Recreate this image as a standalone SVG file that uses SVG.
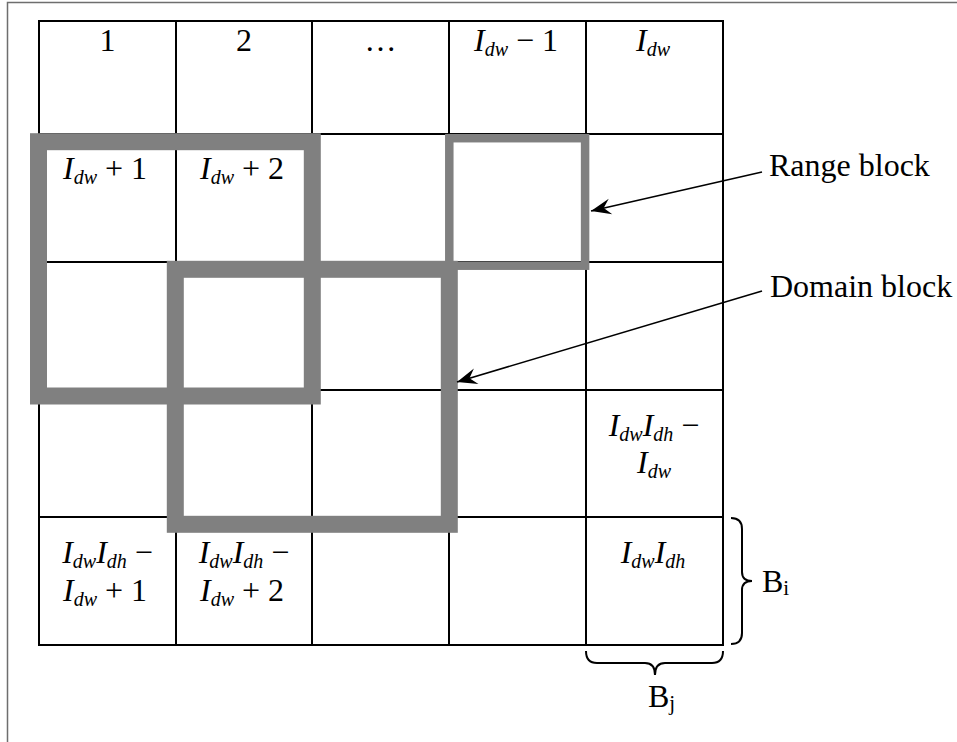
<svg xmlns="http://www.w3.org/2000/svg" width="957" height="742" viewBox="0 0 957 742">
<style>
  .t{font-family:"Liberation Serif","Times New Roman",serif;font-size:32px;fill:#000;text-anchor:middle}
  .lbl{font-family:"Liberation Serif","Times New Roman",serif;font-size:32px;fill:#000}
  .i{font-style:italic}
  .s{font-style:italic;font-size:20px}
  .grid{stroke:#000;stroke-width:2;fill:none}
  .blk{stroke:#808080;fill:none}
  .conn{stroke:#000;stroke-width:1.6;fill:none}
  .brace{stroke:#000;stroke-width:2;fill:none}
</style>
<defs>
  <marker id="ah" markerUnits="userSpaceOnUse" markerWidth="22" markerHeight="18" refX="21" refY="9" orient="auto" viewBox="0 0 22 18">
    <path d="M21,9 L1,1 L8,9 L1,17 Z" fill="#000"/>
  </marker>
</defs>
<rect width="957" height="742" fill="#fff"/>
<path d="M7.5,742 V2.5 H957" stroke="#6e6e6e" stroke-width="1.5" fill="none"/>

<g id="grid" class="grid">
  <rect x="39" y="21" width="684" height="624"/>
  <path d="M176,21V645 M312,21V645 M449,21V645 M586,21V645 M39,134H723 M39,262H723 M39,390H723 M39,517H723"/>
</g>

<g id="cells">
  <g id="c11"><text class="t" x="107.5" y="51">1</text></g>
  <g id="c12"><text class="t" x="244" y="51">2</text></g>
  <g id="c13"><text class="t" x="380.5" y="51">…</text></g>
  <g id="c14"><text class="t" x="516" y="51"><tspan class="i">I</tspan><tspan class="s" dy="5">dw</tspan><tspan dy="-5"> − 1</tspan></text></g>
  <g id="c15"><text class="t" x="653" y="51"><tspan class="i">I</tspan><tspan class="s" dy="5">dw</tspan></text></g>
  <g id="c21"><text class="t" x="105" y="179"><tspan class="i">I</tspan><tspan class="s" dy="5">dw</tspan><tspan dy="-5"> + 1</tspan></text></g>
  <g id="c22"><text class="t" x="242" y="179"><tspan class="i">I</tspan><tspan class="s" dy="5">dw</tspan><tspan dy="-5"> + 2</tspan></text></g>
  <g id="c45">
    <text class="t" x="654" y="436"><tspan class="i">I</tspan><tspan class="s" dy="5">dw</tspan><tspan class="i" dy="-5">I</tspan><tspan class="s" dy="5">dh</tspan><tspan dy="-5"> −</tspan></text>
    <text class="t" x="654" y="473"><tspan class="i">I</tspan><tspan class="s" dy="5">dw</tspan></text>
  </g>
  <g id="c51">
    <text class="t" x="107.5" y="563"><tspan class="i">I</tspan><tspan class="s" dy="5">dw</tspan><tspan class="i" dy="-5">I</tspan><tspan class="s" dy="5">dh</tspan><tspan dy="-5"> −</tspan></text>
    <text class="t" x="105" y="601"><tspan class="i">I</tspan><tspan class="s" dy="5">dw</tspan><tspan dy="-5"> + 1</tspan></text>
  </g>
  <g id="c52">
    <text class="t" x="244" y="563"><tspan class="i">I</tspan><tspan class="s" dy="5">dw</tspan><tspan class="i" dy="-5">I</tspan><tspan class="s" dy="5">dh</tspan><tspan dy="-5"> −</tspan></text>
    <text class="t" x="242" y="601"><tspan class="i">I</tspan><tspan class="s" dy="5">dw</tspan><tspan dy="-5"> + 2</tspan></text>
  </g>
  <g id="c55"><text class="t" x="653" y="563"><tspan class="i">I</tspan><tspan class="s" dy="5">dw</tspan><tspan class="i" dy="-5">I</tspan><tspan class="s" dy="5">dh</tspan></text></g>
</g>

<g id="block-a"><rect class="blk" x="38.5" y="141.7" width="273.8" height="254.3" stroke-width="17"/></g>
<g id="domain-block"><rect class="blk" x="175.3" y="269.3" width="274" height="255" stroke-width="17"/></g>
<g id="range-block"><rect class="blk" x="449.3" y="138.2" width="135.8" height="127.5" stroke-width="8.5"/></g>

<g id="range-label"><text class="lbl" x="769" y="176">Range block</text></g>
<g id="domain-label"><text class="lbl" x="770" y="297">Domain block</text></g>

<g id="connectors">
  <path class="conn" d="M762,172 L591,211" marker-end="url(#ah)"/>
  <path class="conn" d="M762,291 L457,382" marker-end="url(#ah)"/>
</g>

<g id="bi">
  <path class="brace" d="M731,518 Q742,518 742,529 L742,572 Q742,581 752,581 Q742,581 742,590 L742,633 Q742,644 731,644"/>
  <text class="lbl" x="762" y="592">B<tspan font-size="21" dy="3">i</tspan></text>
</g>
<g id="bj">
  <path class="brace" d="M586,651 Q586,663 597,663 L645,663 Q655,663 655,675 Q655,663 665,663 L712,663 Q723,663 723,651"/>
  <text class="lbl" x="648" y="707">B<tspan font-size="21" dy="3">j</tspan></text>
</g>
</svg>
